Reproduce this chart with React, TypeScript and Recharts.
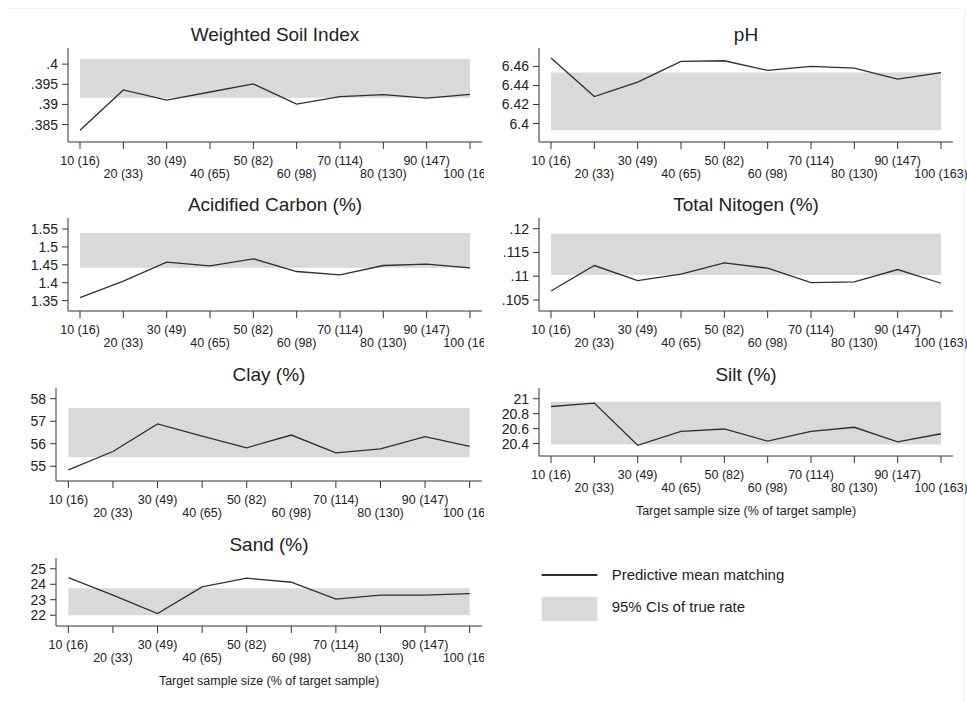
import React from 'react';
import { ComposedChart, Line, Area, XAxis, YAxis } from 'recharts';

// Target sample size categories (% of target sample, with n in brackets)
const samplePct = [10, 20, 30, 40, 50, 60, 70, 80, 90, 100];
const sampleLabels = [
  '10 (16)', '20 (33)', '30 (49)', '40 (65)', '50 (82)',
  '60 (98)', '70 (114)', '80 (130)', '90 (147)', '100 (163)',
];

// Predictive mean matching estimates and 95% CI of the true rate, per soil measure
const soilIndexMean = [0.38358, 0.3936, 0.39108, 0.39308, 0.39508, 0.39008, 0.39192, 0.39242, 0.39158, 0.3925];
const soilIndexCI = [0.39167, 0.40125];
const soilIndexTicks = [0.385, 0.39, 0.395, 0.4];

const phMean = [6.4688, 6.4284, 6.4435, 6.4653, 6.466, 6.4558, 6.46, 6.4582, 6.4466, 6.4536];
const phCI = [6.3929, 6.4536];
const phTicks = [6.4, 6.42, 6.44, 6.46];

const carbonMean = [1.3584, 1.4047, 1.4575, 1.4472, 1.4668, 1.4313, 1.422, 1.4481, 1.4519, 1.4416];
const carbonCI = [1.4416, 1.5388];
const carbonTicks = [1.35, 1.4, 1.45, 1.5, 1.55];

const nitrogenMean = [0.1069, 0.11225, 0.10908, 0.11042, 0.11282, 0.11169, 0.10866, 0.1088, 0.11141, 0.10852];
const nitrogenCI = [0.11028, 0.11894];
const nitrogenTicks = [0.105, 0.11, 0.115, 0.12];

const clayMean = [54.837, 55.654, 56.881, 56.342, 55.822, 56.386, 55.594, 55.772, 56.312, 55.881];
const clayCI = [55.401, 57.584];
const clayTicks = [55, 56, 57, 58];

const siltMean = [20.896, 20.941, 20.377, 20.564, 20.595, 20.432, 20.564, 20.618, 20.423, 20.531];
const siltCI = [20.386, 20.959];
const siltTicks = [20.4, 20.6, 20.8, 21];

const sandMean = [24.435, 23.304, 22.109, 23.826, 24.391, 24.13, 23.043, 23.304, 23.304, 23.391];
const sandCI = [22.0, 23.739];
const sandTicks = [22, 23, 24, 25];

const xAxisTitle = 'Target sample size (% of target sample)';
const legendLineLabel = 'Predictive mean matching';
const legendBandLabel = '95% CIs of true rate';

const FONT = '"Liberation Sans", Arial, Helvetica, sans-serif';
const INK = '#333333';
const TEXT = '#222222';
const BAND = '#d9d9d9';
const LINE = '#2e2e2e';

const ROW_H = 170;
const COL_LEFT = [0, 483];
const CHART_W = 484;
const PLOT_RIGHT = [482, 953];
const X_DOMAIN: [number, number] = [7.23, 102.77];

type PanelSpec = {
  title: string;
  mean: number[];
  ci: number[];
  ticks: number[];
  domain: [number, number];
  col: 0 | 1;
  row: number;
  yAxisWidth: number;
  axisY: number;
  xTitle?: string;
};

const panels: PanelSpec[] = [
  { title: 'Weighted Soil Index', mean: soilIndexMean, ci: soilIndexCI, ticks: soilIndexTicks, domain: [0.38067, 0.404], col: 0, row: 0, yAxisWidth: 68, axisY: 142 },
  { title: 'pH', mean: phMean, ci: phCI, ticks: phTicks, domain: [6.3806, 6.4794], col: 1, row: 0, yAxisWidth: 56, axisY: 142 },
  { title: 'Acidified Carbon (%)', mean: carbonMean, ci: carbonCI, ticks: carbonTicks, domain: [1.321, 1.5808], col: 0, row: 1, yAxisWidth: 68, axisY: 141 },
  { title: 'Total Nitogen (%)', mean: nitrogenMean, ci: nitrogenCI, ticks: nitrogenTicks, domain: [0.10268, 0.12225], col: 1, row: 1, yAxisWidth: 56, axisY: 141 },
  { title: 'Clay (%)', mean: clayMean, ci: clayCI, ticks: clayTicks, domain: [54.346, 58.475], col: 0, row: 2, yAxisWidth: 56, axisY: 141 },
  { title: 'Silt (%)', mean: siltMean, ci: siltCI, ticks: siltTicks, domain: [20.233, 21.144], col: 1, row: 2, yAxisWidth: 56, axisY: 116, xTitle: xAxisTitle },
  { title: 'Sand (%)', mean: sandMean, ci: sandCI, ticks: sandTicks, domain: [21.304, 25.696], col: 0, row: 3, yAxisWidth: 56, axisY: 116, xTitle: xAxisTitle },
];

// Stata-style numbers: drop the leading zero (".395")
const formatY = (v: number) => String(v).replace(/^0\./, '.');

// Category labels alternate between two rows so they do not collide
const XTick = (props: any) => {
  const { x, y, payload } = props;
  const i = samplePct.indexOf(payload.value);
  const lower = i % 2 === 1;
  return (
    <text
      x={x}
      y={y + (lower ? 26.5 : 14)}
      textAnchor="middle"
      fill={TEXT}
      fontSize={12.5}
      fontFamily={FONT}
    >
      {sampleLabels[i]}
    </text>
  );
};

function Panel({ spec }: { spec: PanelSpec }) {
  const left = COL_LEFT[spec.col];
  const top = spec.row * ROW_H;
  const xAxisHeight = spec.xTitle ? 68 : 44;
  const height = spec.axisY + xAxisHeight;
  const marginRight = left + CHART_W - PLOT_RIGHT[spec.col];
  const data = samplePct.map((p, i) => ({ pct: p, mean: spec.mean[i], band: spec.ci }));
  const renderXTitle = (p: any) => {
    const vb = p.viewBox;
    return (
      <text
        x={vb.x + vb.width / 2}
        y={vb.y + 58.5}
        textAnchor="middle"
        fill={TEXT}
        fontSize={12.5}
        fontFamily={FONT}
      >
        {spec.xTitle}
      </text>
    );
  };
  return (
    <div style={{ position: 'absolute', left, top, width: CHART_W, height }}>
      <ComposedChart
        width={CHART_W}
        height={height}
        data={data}
        margin={{ top: 48, right: marginRight, bottom: 0, left: 0 }}
      >
        <XAxis
          dataKey="pct"
          type="number"
          domain={X_DOMAIN}
          ticks={samplePct}
          interval={0}
          height={xAxisHeight}
          tickSize={7}
          tickMargin={2}
          stroke={INK}
          tick={<XTick />}
          label={spec.xTitle ? { content: renderXTitle } : undefined}
        />
        <YAxis
          type="number"
          domain={spec.domain}
          ticks={spec.ticks}
          allowDataOverflow
          interval={0}
          width={spec.yAxisWidth}
          tickSize={6}
          tickMargin={4}
          stroke={INK}
          tickFormatter={formatY}
          tick={{ fill: TEXT, fontSize: 14, fontFamily: FONT }}
        />
        <Area
          dataKey="band"
          type="linear"
          isAnimationActive={false}
          fill={BAND}
          fillOpacity={1}
          stroke="none"
        />
        <Line
          dataKey="mean"
          type="linear"
          isAnimationActive={false}
          stroke={LINE}
          strokeWidth={1.3}
          dot={false}
        />
      </ComposedChart>
    </div>
  );
}

export default function App() {
  return (
    <div
      style={{
        position: 'absolute',
        left: 0,
        top: 0,
        width: 967,
        height: 702,
        background: '#ffffff',
        overflow: 'hidden',
        fontFamily: FONT,
      }}
    >
      {panels.map((p) => (
        <Panel key={p.title} spec={p} />
      ))}
      <svg
        width={967}
        height={702}
        style={{ position: 'absolute', left: 0, top: 0, pointerEvents: 'none' }}
      >
        <path d="M8 8.5 H964.5 V702" fill="none" stroke="#edf1f5" strokeWidth={1} />
        {panels.map((p) => {
          const plotLeft = COL_LEFT[p.col] + p.yAxisWidth;
          const cx = (plotLeft + PLOT_RIGHT[p.col]) / 2;
          return (
            <text
              key={p.title}
              x={cx}
              y={41.3 + p.row * ROW_H}
              textAnchor="middle"
              fill={TEXT}
              fontSize={19}
              fontFamily={FONT}
            >
              {p.title}
            </text>
          );
        })}
        <line x1={541.7} x2={597.3} y1={575} y2={575} stroke={LINE} strokeWidth={2} />
        <text x={611.7} y={580} fill={TEXT} fontSize={15} fontFamily={FONT}>
          {legendLineLabel}
        </text>
        <rect x={541.7} y={596.7} width={55.6} height={24.3} fill={BAND} />
        <text x={611.7} y={611.7} fill={TEXT} fontSize={15} fontFamily={FONT}>
          {legendBandLabel}
        </text>
      </svg>
    </div>
  );
}
